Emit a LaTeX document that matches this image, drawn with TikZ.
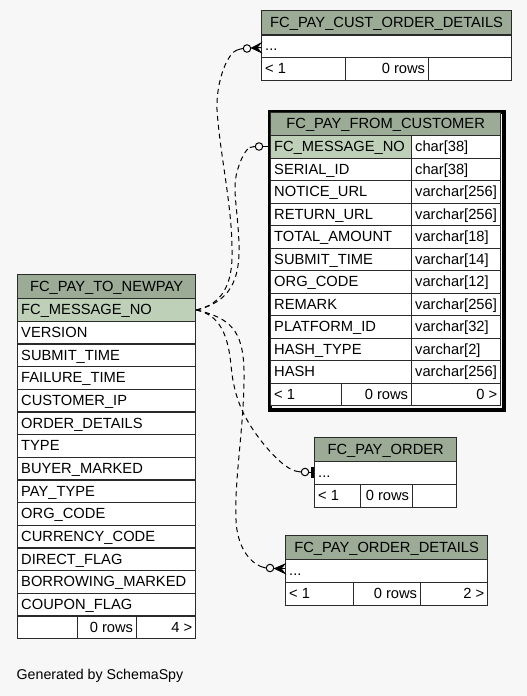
\documentclass[tikz,border=0pt]{standalone}
\usepackage{fontspec}
\setmainfont{Liberation Sans}
\definecolor{bg}{HTML}{F7F7F7}
\definecolor{hdr}{HTML}{9BAB96}
\definecolor{pk}{HTML}{BED1B8}
\definecolor{bord}{HTML}{2A2A2A}
\tikzset{
 cellbox/.style={draw=bord, line width=1.3pt, inner sep=0pt, anchor=north west},
 lbl/.style={inner sep=0pt, font=\fontsize{14.7pt}{17pt}\selectfont, text=black},
 rel/.style={draw=black, line width=1pt, dash pattern=on 5pt off 4pt},
 lead/.style={draw=black, line width=1pt},
 endcirc/.style={circle, draw=black, fill=bg, line width=1pt, minimum size=7.5pt, inner sep=0pt},
 crowfoot/.style={fill=black, draw=black, line width=0.8pt, line join=miter},
}
\newcommand\cellL[7]{%
 \node[cellbox, fill=#6, minimum width=#4pt, minimum height=#5pt] (#1) at (#2,#3) {};
 \node[lbl, anchor=base west] (#1-t) at ([xshift=4pt,yshift=-4.8pt]#1.west) {#7};}
\newcommand\cellR[7]{%
 \node[cellbox, fill=#6, minimum width=#4pt, minimum height=#5pt] (#1) at (#2,#3) {};
 \node[lbl, anchor=base east] (#1-t) at ([xshift=-4pt,yshift=-4.8pt]#1.east) {#7};}
\newcommand\cellC[7]{%
 \node[cellbox, fill=#6, minimum width=#4pt, minimum height=#5pt] (#1) at (#2,#3) {};
 \node[lbl, anchor=base] (#1-t) at ([yshift=-4.8pt]#1.center) {#7};}
\begin{document}
\begin{tikzpicture}[x=1pt,y=-1pt]
\path[fill=bg, use as bounding box] (0,0) rectangle (527,696);

% ---------- FC_PAY_CUST_ORDER_DETAILS ----------
\cellC{cu-h}{261}{10}{250}{24.3}{hdr}{FC\_PAY\_CUST\_ORDER\_DETAILS}
\cellL{cu-r}{261}{34.3}{250}{22.4}{white}{...}
\cellL{cu-f1}{261}{56.7}{84}{23.3}{white}{< 1}
\cellR{cu-f2}{345}{56.7}{83}{23.3}{white}{0 rows}
\cellR{cu-f3}{428}{56.7}{83}{23.3}{white}{}

% ---------- FC_PAY_FROM_CUSTOMER ----------
\node[draw=black, line width=4pt, minimum width=234pt, minimum height=298pt, anchor=north west, inner sep=0pt] (fc-frame) at (268,109.5) {};
\cellC{fc-h}{270}{112}{230}{23}{hdr}{FC\_PAY\_FROM\_CUSTOMER}
\cellL{fc-n0}{270}{135}{141}{22.5}{pk}{FC\_MESSAGE\_NO}
\cellL{fc-t0}{411}{135}{89}{22.5}{white}{char[38]}
\cellL{fc-n1}{270}{157.5}{141}{22.5}{white}{SERIAL\_ID}
\cellL{fc-t1}{411}{157.5}{89}{22.5}{white}{char[38]}
\cellL{fc-n2}{270}{180}{141}{22.5}{white}{NOTICE\_URL}
\cellL{fc-t2}{411}{180}{89}{22.5}{white}{varchar[256]}
\cellL{fc-n3}{270}{202.5}{141}{22.5}{white}{RETURN\_URL}
\cellL{fc-t3}{411}{202.5}{89}{22.5}{white}{varchar[256]}
\cellL{fc-n4}{270}{225}{141}{22.5}{white}{TOTAL\_AMOUNT}
\cellL{fc-t4}{411}{225}{89}{22.5}{white}{varchar[18]}
\cellL{fc-n5}{270}{247.5}{141}{22.5}{white}{SUBMIT\_TIME}
\cellL{fc-t5}{411}{247.5}{89}{22.5}{white}{varchar[14]}
\cellL{fc-n6}{270}{270}{141}{22.5}{white}{ORG\_CODE}
\cellL{fc-t6}{411}{270}{89}{22.5}{white}{varchar[12]}
\cellL{fc-n7}{270}{292.5}{141}{22.5}{white}{REMARK}
\cellL{fc-t7}{411}{292.5}{89}{22.5}{white}{varchar[256]}
\cellL{fc-n8}{270}{315}{141}{22.5}{white}{PLATFORM\_ID}
\cellL{fc-t8}{411}{315}{89}{22.5}{white}{varchar[32]}
\cellL{fc-n9}{270}{337.5}{141}{22.5}{white}{HASH\_TYPE}
\cellL{fc-t9}{411}{337.5}{89}{22.5}{white}{varchar[2]}
\cellL{fc-n10}{270}{360}{141}{22.5}{white}{HASH}
\cellL{fc-t10}{411}{360}{89}{22.5}{white}{varchar[256]}
\cellL{fc-f1}{270}{382.5}{71}{22.5}{white}{< 1}
\cellR{fc-f2}{341}{382.5}{70}{22.5}{white}{0 rows}
\cellR{fc-f3}{411}{382.5}{89}{22.5}{white}{0 >}

% ---------- FC_PAY_TO_NEWPAY ----------
\cellC{np-h}{17}{274}{178}{24}{hdr}{FC\_PAY\_TO\_NEWPAY}
\cellL{np-r0}{17}{298}{178}{22.67}{pk}{FC\_MESSAGE\_NO}
\cellL{np-r1}{17}{320.67}{178}{22.67}{white}{VERSION}
\cellL{np-r2}{17}{343.33}{178}{22.67}{white}{SUBMIT\_TIME}
\cellL{np-r3}{17}{366}{178}{22.67}{white}{FAILURE\_TIME}
\cellL{np-r4}{17}{388.67}{178}{22.67}{white}{CUSTOMER\_IP}
\cellL{np-r5}{17}{411.33}{178}{22.67}{white}{ORDER\_DETAILS}
\cellL{np-r6}{17}{434}{178}{22.67}{white}{TYPE}
\cellL{np-r7}{17}{456.67}{178}{22.67}{white}{BUYER\_MARKED}
\cellL{np-r8}{17}{479.33}{178}{22.67}{white}{PAY\_TYPE}
\cellL{np-r9}{17}{502}{178}{22.67}{white}{ORG\_CODE}
\cellL{np-r10}{17}{524.67}{178}{22.67}{white}{CURRENCY\_CODE}
\cellL{np-r11}{17}{547.33}{178}{22.67}{white}{DIRECT\_FLAG}
\cellL{np-r12}{17}{570}{178}{22.67}{white}{BORROWING\_MARKED}
\cellL{np-r13}{17}{592.67}{178}{22.67}{white}{COUPON\_FLAG}
\cellL{np-f1}{17}{615.33}{60}{22.67}{white}{}
\cellR{np-f2}{77}{615.33}{59}{22.67}{white}{0 rows}
\cellR{np-f3}{136}{615.33}{59}{22.67}{white}{4 >}

% ---------- FC_PAY_ORDER ----------
\cellC{po-h}{314}{437}{142}{24}{hdr}{FC\_PAY\_ORDER}
\cellL{po-r}{314}{461}{142}{22.5}{white}{...}
\cellL{po-f1}{314}{483.5}{46}{23.5}{white}{< 1}
\cellR{po-f2}{360}{483.5}{52}{23.5}{white}{0 rows}
\cellR{po-f3}{412}{483.5}{44}{23.5}{white}{}

% ---------- FC_PAY_ORDER_DETAILS ----------
\cellC{od-h}{285}{534.5}{202}{24.5}{hdr}{FC\_PAY\_ORDER\_DETAILS}
\cellL{od-r}{285}{559}{202}{23}{white}{...}
\cellL{od-f1}{285}{582}{68}{23}{white}{< 1}
\cellR{od-f2}{353}{582}{67}{23}{white}{0 rows}
\cellR{od-f3}{420}{582}{67}{23}{white}{2 >}

% ---------- connectors ----------
\node[endcirc] (c1) at (247,48.5) {};
\node[endcirc] (c2) at (259,146.5) {};
\node[endcirc] (c3) at (305,472) {};
\node[endcirc] (c4) at (270,568) {};

\draw[rel] (np-r0.east) .. controls (222,304) and (233,285) .. (232,250)
  .. controls (232,205) and (220,155) .. (217,110)
  .. controls (216,80) and (228,52) .. ([xshift=-5pt,yshift=-1.2pt]c1.west);
\draw[rel] (np-r0.east) .. controls (230,302) and (240,280) .. (239,245)
  .. controls (238,210) and (232,190) .. (237,172)
  .. controls (240,160) and (246,149) .. ([xshift=-5pt,yshift=-1pt]c2.west);
\draw[rel] (np-r0.east) .. controls (220,315) and (228,335) .. (231,365)
  .. controls (234,400) and (245,420) .. (262,442)
  .. controls (275,458) and (287,469) .. ([xshift=-5pt,yshift=0.9pt]c3.west);
\draw[rel] (np-r0.east) .. controls (230,318) and (243,330) .. (244,370)
  .. controls (245,420) and (234,480) .. (236,520)
  .. controls (237,545) and (248,561) .. ([xshift=-5pt,yshift=1.5pt]c4.west);

\draw[lead] (c1.west) -- ++(-5,1.2);
\draw[lead] (c2.west) -- ++(-5,1);
\draw[lead] (c3.west) -- ++(-5,-0.9);
\draw[lead] (c4.west) -- ++(-5,-1.5);

% end markers
\coordinate (k1) at (251.5,48);
\draw[crowfoot] (k1) -- (cu-r.west |- 0,43) -- (257,47.5) -- (cu-r.west |- 0,52.5) -- cycle;
\draw[lead] (k1) -- (cu-r.west |- 0,47.5);
\draw[lead] (c2.east) -- (fc-frame.west |- c2.east);
\draw[lead] (c3.east) -- (311,472);
\fill[black] (311,466.5) rectangle (po-r.west |- 0,477.5);
\coordinate (k4) at (274.5,568.5);
\draw[crowfoot] (k4) -- (od-r.west |- 0,564) -- (281,568.5) -- (od-r.west |- 0,573.5) -- cycle;
\draw[lead] (k4) -- (od-r.west |- 0,568.5);

\node[lbl, anchor=base west, font=\fontsize{14.2pt}{17pt}\selectfont] (gen) at (16.5,679) {Generated by SchemaSpy};
\end{tikzpicture}
\end{document}
